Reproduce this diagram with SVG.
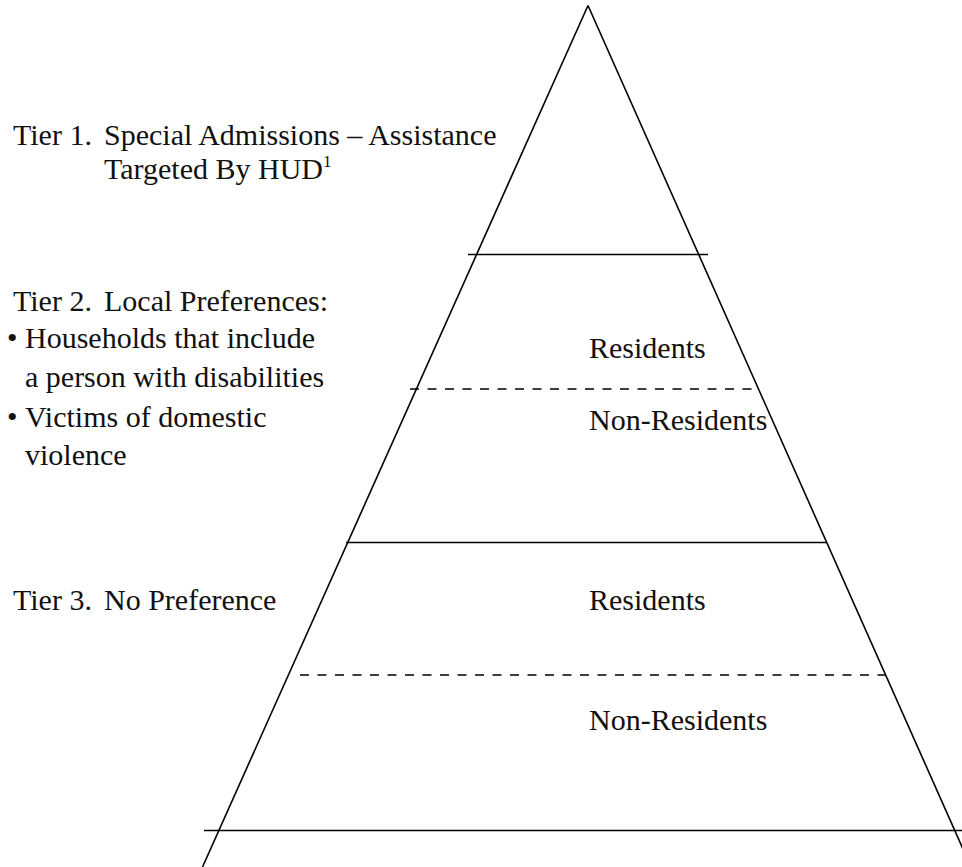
<svg xmlns="http://www.w3.org/2000/svg" width="962" height="867" viewBox="0 0 962 867">
<style>
text{font-family:"Liberation Serif","Times New Roman",serif;font-size:30px;fill:#111}
.ln{stroke:#000;stroke-width:1.6;fill:none}
.dash{stroke:#000;stroke-width:1.4;stroke-dasharray:9 8.5;fill:none}
</style>
<rect width="962" height="867" fill="#fff"/>
<g id="connectors">
<line class="ln" x1="588" y1="5.5" x2="202.5" y2="867"/>
<line class="ln" x1="588" y1="5.5" x2="971" y2="867"/>
<line class="ln" x1="468" y1="254.5" x2="708" y2="254.5"/>
<line class="dash" x1="410" y1="389" x2="758" y2="389"/>
<line class="ln" x1="346" y1="542.5" x2="827" y2="542.5"/>
<line class="dash" x1="300" y1="675" x2="886" y2="675"/>
<line class="ln" x1="204" y1="830.5" x2="962" y2="830.5"/>
</g>
<g id="tier1">
<text x="13" y="145">Tier 1.<tspan x="104">Special Admissions – Assistance</tspan></text>
<text x="104" y="179">Targeted By HUD<tspan font-size="17" dy="-12">1</tspan></text>
</g>
<g id="tier2">
<text x="13" y="311">Tier 2.<tspan x="104">Local Preferences:</tspan></text>
<text x="7" y="348">•<tspan x="25">Households that include</tspan></text>
<text x="25" y="387">a person with disabilities</text>
<text x="7" y="427">•<tspan x="25">Victims of domestic</tspan></text>
<text x="25" y="465">violence</text>
</g>
<g id="tier2-residents"><text x="589" y="358">Residents</text></g>
<g id="tier2-nonresidents"><text x="589" y="430">Non-Residents</text></g>
<g id="tier3">
<text x="13" y="610">Tier 3.<tspan x="104">No Preference</tspan></text>
</g>
<g id="tier3-residents"><text x="589" y="610">Residents</text></g>
<g id="tier3-nonresidents"><text x="589" y="730">Non-Residents</text></g>
</svg>
